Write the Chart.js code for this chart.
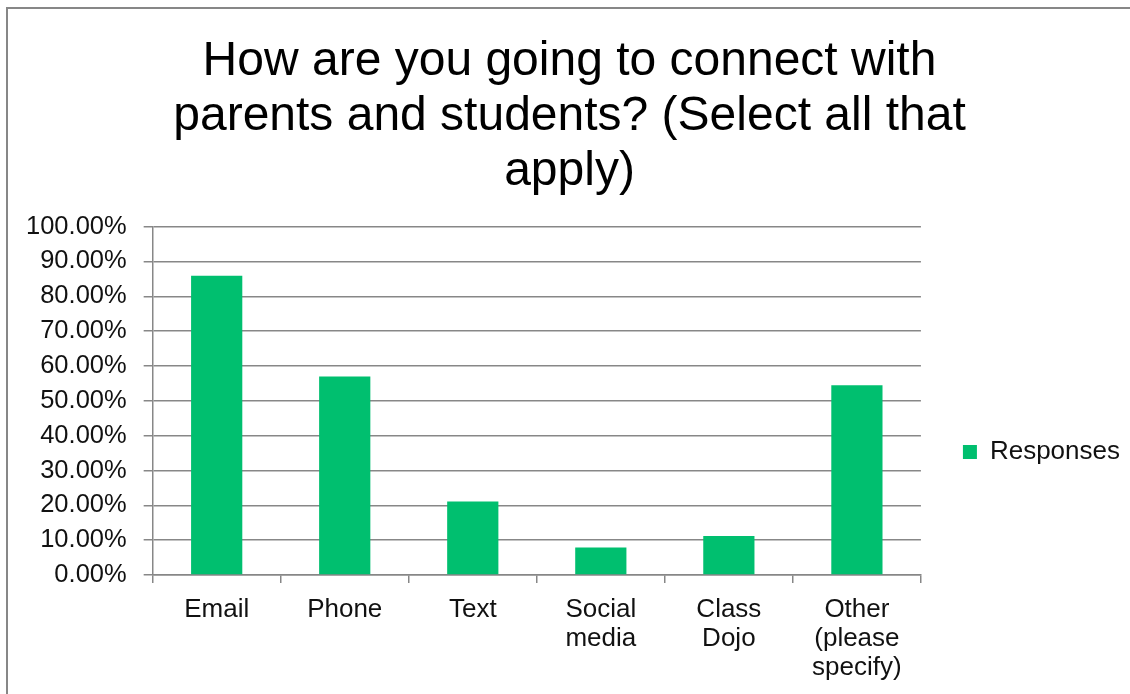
<!DOCTYPE html>
<html>
<head>
<meta charset="utf-8">
<script src="https://cdn.jsdelivr.net/npm/chart.js@4"></script>
<style>
  html, body { margin: 0; padding: 0; background: #fff; overflow: hidden; }
  #frame {
    position: absolute; left: 6px; top: 7px; width: 1300px; height: 900px;
    border-top: 2px solid #878787; border-left: 2px solid #878787;
  }
  #wrap { position: absolute; left: 0; top: 0; width: 1130px; height: 694px; }
</style>
</head>
<body>
<div id="frame"></div>
<div id="wrap"><canvas id="chart-responses" width="1130" height="694"></canvas></div>
<script>
'use strict';

var categories = ['Email', 'Phone', 'Text', ['Social', 'media'], ['Class', 'Dojo'], ['Other', '(please', 'specify)']]
var responses = [85.9, 57.0, 21.1, 7.9, 11.2, 54.5]
var seriesName = 'Responses'
var titleLines = ['How are you going to connect with', 'parents and students? (Select all that', 'apply)']

const barColor = '#00bf6f'
const gridColor = '#878787'
const textColor = '#111111'
const fontFamily = "'Liberation Sans', Arial, sans-serif"

function initChart() {
    var ctx = document.getElementById('chart-responses').getContext('2d');
    new Chart(ctx, {
        type: 'bar',
        data: {
            labels: categories,
            datasets: [{
                label: seriesName,
                data: responses,
                backgroundColor: barColor,
                hoverBackgroundColor: barColor,
                borderWidth: 0,
                categoryPercentage: 1,
                barPercentage: 0.4
            }]
        },
        options: {
            responsive: false,
            animation: false,
            layout: {
                padding: { left: 9, right: 0, top: 0, bottom: 0 }
            },
            plugins: {
                title: {
                    display: true,
                    text: titleLines,
                    color: '#000',
                    font: { family: fontFamily, size: 48, weight: 'normal', lineHeight: 1.15 },
                    padding: { top: 34, bottom: 27 }
                },
                legend: {
                    position: 'right',
                    // empty legend title only pushes the entry down to mid height
                    title: {
                        display: true,
                        text: '',
                        font: { size: 10, lineHeight: 1.2 },
                        padding: { top: 198, bottom: 0 }
                    },
                    labels: {
                        color: textColor,
                        font: { family: fontFamily, size: 26 },
                        boxWidth: 14,
                        boxHeight: 14,
                        padding: 42
                    }
                },
                tooltip: { enabled: false }
            },
            scales: {
                x: {
                    grid: {
                        display: true,
                        drawOnChartArea: false,
                        drawTicks: true,
                        tickLength: 8,
                        color: gridColor,
                        lineWidth: 1.5
                    },
                    border: { display: true, color: gridColor, width: 1.5 },
                    ticks: {
                        color: textColor,
                        font: { family: fontFamily, size: 26, lineHeight: 1.115 },
                        padding: 12,
                        maxRotation: 0,
                        autoSkip: false
                    }
                },
                y: {
                    min: 0,
                    max: 100,
                    grid: {
                        color: gridColor,
                        lineWidth: 1.5,
                        tickLength: 9
                    },
                    border: { display: true, color: gridColor, width: 1.5 },
                    ticks: {
                        stepSize: 10,
                        color: textColor,
                        font: { family: fontFamily, size: 25.5 },
                        padding: 17,
                        callback: function(v) { return v.toFixed(2) + '%' }
                    }
                }
            }
        }
    });
}

initChart()
</script>
</body>
</html>
